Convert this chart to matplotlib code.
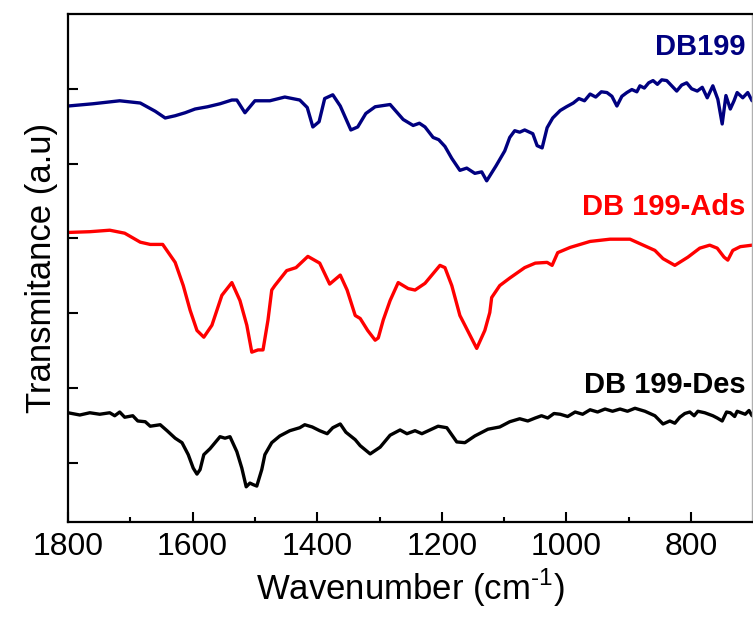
"""
FTIR spectra of DB199 dye: raw, adsorbed and desorbed.
Values read off the published figure (offset, arbitrary units).
"""

import matplotlib
matplotlib.use("Agg")
import matplotlib.pyplot as plt
from matplotlib.ticker import MultipleLocator

# ------------------------------------------------------------------ data
db199_wn = [1800, 1760, 1717, 1684, 1660, 1644, 1628, 1612, 1596, 1576, 1556, 1537,
            1529, 1516, 1500, 1476, 1452, 1428, 1416, 1407, 1397, 1388, 1375, 1363,
            1346, 1335, 1322, 1307, 1299, 1283, 1262, 1246, 1236, 1227, 1214, 1205,
            1195, 1184, 1171, 1160, 1147, 1136, 1128, 1113, 1099, 1091, 1083, 1075,
            1067, 1054, 1047, 1039, 1031, 1022, 1010, 1000, 989, 980, 971, 962, 953,
            944, 935, 927, 919, 911, 903, 895, 887, 882, 875, 868, 861, 854, 847,
            839, 831, 823, 815, 807, 799, 790, 782, 774, 765, 757, 750, 744, 737,
            731, 726, 717, 709, 702]
db199_t = [57.7, 58.0, 58.4, 58.1, 57.0, 56.1, 56.4, 56.8, 57.3, 57.6, 58.0, 58.5,
           58.5, 56.8, 58.4, 58.4, 58.9, 58.5, 57.5, 54.9, 55.6, 58.7, 59.2, 57.7,
           54.5, 54.9, 56.7, 57.6, 57.7, 57.9, 55.9, 55.1, 55.4, 54.9, 53.5, 53.2,
           52.3, 50.7, 49.1, 49.4, 48.7, 48.9, 47.7, 49.7, 51.7, 53.5, 54.4, 54.2,
           54.5, 54.0, 52.4, 52.1, 54.8, 56.1, 57.1, 57.6, 58.1, 58.7, 58.4, 59.3,
           58.9, 59.6, 59.5, 59.0, 57.7, 59.0, 59.5, 59.9, 59.6, 60.4, 60.1, 60.8,
           61.1, 60.6, 61.2, 61.1, 60.4, 59.7, 60.5, 60.8, 60.0, 59.7, 60.2, 58.8,
           60.4, 58.6, 55.3, 59.1, 57.3, 58.4, 59.5, 58.8, 59.5, 58.4]

ads_wn = [1800, 1765, 1733, 1709, 1684, 1668, 1648, 1628, 1615, 1604, 1593, 1582,
          1569, 1553, 1537, 1524, 1513, 1505, 1495, 1487, 1479, 1473, 1468, 1449,
          1434, 1415, 1396, 1380, 1363, 1352, 1339, 1331, 1319, 1307, 1302, 1294,
          1283, 1270, 1254, 1243, 1227, 1203, 1195, 1184, 1171, 1163, 1144, 1131,
          1123, 1120, 1107, 1091, 1067, 1050, 1031, 1023, 1014, 994, 962, 930,
          898, 882, 858, 845, 826, 805, 786, 770, 758, 747, 741, 733, 721, 702]
ads_t = [40.8, 40.9, 41.1, 40.7, 39.5, 39.2, 39.2, 36.8, 33.7, 30.4, 27.7, 26.8,
         28.4, 32.4, 34.1, 31.7, 28.4, 24.8, 25.1, 25.1, 29.1, 33.1, 33.7, 35.7,
         36.1, 37.6, 36.7, 33.9, 35.1, 33.1, 29.7, 29.3, 27.7, 26.4, 26.7, 29.1,
         31.7, 34.1, 33.3, 33.1, 34.0, 36.4, 36.1, 33.7, 29.7, 28.4, 25.3, 27.7,
         30.1, 32.1, 33.7, 34.7, 36.1, 36.7, 36.8, 36.4, 38.1, 38.8, 39.6, 39.9,
         39.9, 39.3, 38.4, 37.3, 36.4, 37.5, 38.7, 39.1, 38.7, 37.5, 37.1, 38.4,
         38.9, 39.1]

des_wn = [1800, 1781, 1765, 1749, 1733, 1725, 1717, 1709, 1696, 1688, 1676, 1668,
          1652, 1641, 1628, 1617, 1607, 1599, 1593, 1588, 1582, 1572, 1564, 1556,
          1548, 1540, 1529, 1521, 1514, 1508, 1503, 1497, 1489, 1484, 1473, 1460,
          1444, 1428, 1420, 1408, 1396, 1384, 1375, 1363, 1354, 1339, 1331, 1315,
          1299, 1283, 1267, 1256, 1243, 1232, 1219, 1206, 1192, 1176, 1163, 1147,
          1126, 1107, 1091, 1075, 1062, 1050, 1040, 1030, 1020, 1010, 998, 986,
          974, 962, 950, 938, 926, 914, 902, 890, 874, 858, 845, 834, 826, 818,
          810, 802, 795, 789, 778, 765, 758, 750, 743, 737, 730, 726, 713, 707, 702]
des_t = [16.7, 16.4, 16.7, 16.5, 16.7, 16.3, 16.8, 16.1, 16.3, 15.6, 15.5, 14.9,
         15.1, 14.3, 13.3, 12.7, 11.1, 9.3, 8.5, 9.1, 11.1, 11.9, 12.7, 13.5,
         13.3, 13.5, 11.5, 9.3, 6.8, 7.3, 7.1, 6.9, 9.1, 11.1, 12.7, 13.6,
         14.3, 14.7, 15.1, 14.8, 14.3, 13.9, 14.7, 15.2, 14.1, 13.1, 12.3, 11.2,
         12.1, 13.7, 14.4, 13.9, 14.3, 13.9, 14.4, 14.9, 14.7, 12.8, 12.7, 13.6,
         14.5, 14.8, 15.5, 15.9, 15.6, 16.0, 16.3, 16.0, 16.6, 16.5, 16.2, 16.8,
         16.5, 17.1, 16.8, 17.2, 16.9, 17.2, 16.9, 17.3, 16.9, 16.3, 15.2, 15.6,
         15.3, 16.1, 16.6, 16.8, 16.3, 16.9, 16.7, 16.3, 16.0, 15.6, 16.8, 16.7,
         16.2, 16.9, 16.5, 17.0, 16.3]

xticks = [1800, 1600, 1400, 1200, 1000, 800]
yticks = [10, 20, 30, 40, 50, 60]

NAVY = "#000080"
RED = "#FF0000"

plt.rcParams["font.family"] = ["Liberation Sans", "DejaVu Sans"]
plt.rcParams["mathtext.fontset"] = "custom"
plt.rcParams["mathtext.rm"] = "Liberation Sans"

fig = plt.figure(figsize=(7.53, 6.22), dpi=100)
ax = fig.add_axes([0.0903, 0.1608, 0.9085, 0.8167])

line_kw = dict(lw=2.4, solid_joinstyle="round", solid_capstyle="round")
ax.plot(db199_wn, db199_t, color=NAVY, **line_kw)
ax.plot(ads_wn, ads_t, color=RED, **line_kw)
ax.plot(des_wn, des_t, color="black", **line_kw)

ax.set_xlim(1800, 702)
ax.set_ylim(2.1, 70)
ax.set_xticks(xticks)
ax.xaxis.set_minor_locator(MultipleLocator(100))
ax.set_yticks(yticks)
ax.set_yticklabels([])

ax.tick_params(axis="x", which="major", direction="in", length=7, width=1.5,
               labelsize=23, pad=7, top=False)
ax.tick_params(axis="x", which="minor", direction="in", length=3.5, width=1.5,
               top=False)
ax.tick_params(axis="y", direction="in", length=7, width=1.5, right=False)

for side in ("left", "bottom", "top"):
    ax.spines[side].set_linewidth(1.6)
ax.spines["right"].set_color("#b0b0b0")
ax.spines["right"].set_linewidth(1.0)

ax.set_xlabel("Wavenumber (cm$^{\\mathrm{\u2010}1}$)", fontsize=25, labelpad=4)
ax.set_ylabel("Transmitance (a.u)", fontsize=25, labelpad=4)

ax.text(0.99, 0.935, "DB199", transform=ax.transAxes, ha="right", va="center",
        color=NAVY, fontsize=21, fontweight="bold")
ax.text(0.99, 0.62, "DB 199-Ads", transform=ax.transAxes, ha="right", va="center",
        color=RED, fontsize=21, fontweight="bold")
ax.text(0.99, 0.27, "DB 199-Des", transform=ax.transAxes, ha="right", va="center",
        color="black", fontsize=21, fontweight="bold")

fig.savefig("out.png", dpi=100)
